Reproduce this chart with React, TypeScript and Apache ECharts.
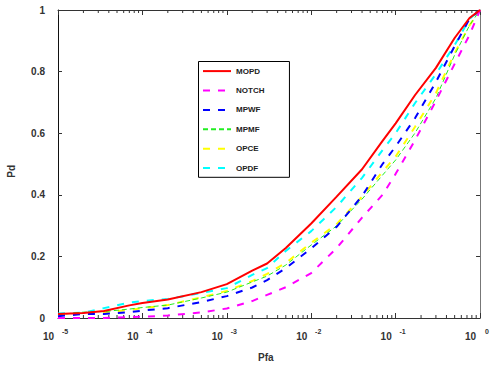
import React, { useEffect, useRef } from "react";
import * as echarts from "echarts";

const pfa = [1e-5, 2e-5, 3.5e-5, 7e-5, 1e-4, 2e-4, 5e-4, 1e-3, 2e-3, 3e-3, 5e-3, 1e-2, 2e-2, 4e-2, 7e-2, 0.1, 0.17, 0.3, 0.5, 0.75, 1];
const mopd = [0.013, 0.016, 0.023, 0.041, 0.049, 0.06, 0.084, 0.11, 0.154, 0.177, 0.227, 0.307, 0.394, 0.483, 0.575, 0.632, 0.724, 0.812, 0.909, 0.974, 1.0];
const notch = [0, 0, 0, 0.003, 0.004, 0.008, 0.018, 0.031, 0.055, 0.075, 0.1, 0.146, 0.227, 0.326, 0.4, 0.468, 0.578, 0.705, 0.825, 0.919, 1.0];
const mpwf = [0.006, 0.013, 0.013, 0.019, 0.024, 0.032, 0.052, 0.071, 0.099, 0.123, 0.162, 0.226, 0.296, 0.396, 0.5, 0.557, 0.649, 0.766, 0.883, 0.971, 1.0];
const mpmf = [0.011, 0.019, 0.021, 0.029, 0.034, 0.042, 0.065, 0.084, 0.117, 0.136, 0.172, 0.237, 0.299, 0.386, 0.464, 0.513, 0.601, 0.714, 0.854, 0.95, 1.0];
const opce = [0.01, 0.016, 0.019, 0.026, 0.032, 0.042, 0.067, 0.088, 0.12, 0.143, 0.179, 0.244, 0.305, 0.394, 0.475, 0.524, 0.621, 0.73, 0.86, 0.95, 1.0];
const opdf = [0.015, 0.017, 0.032, 0.05, 0.055, 0.062, 0.081, 0.097, 0.14, 0.162, 0.218, 0.282, 0.361, 0.455, 0.545, 0.6, 0.698, 0.792, 0.886, 0.971, 1.0];

const seriesNames = ["MOPD", "NOTCH", "MPWF", "MPMF", "OPCE", "OPDF"];
const decades = [-5, -4, -3, -2, -1];
const minorMultipliers = [2, 3, 4, 5, 6, 7, 8, 9];
const xBase = "10";

const FONT = "Liberation Sans, Arial, sans-serif";
const AX = "#333";

export default function App() {
  const ref = useRef<HTMLDivElement>(null);
  useEffect(() => {
    if (!ref.current) return;
    const chart = echarts.init(ref.current, undefined, { renderer: "svg" });
    const values = [mopd, notch, mpwf, mpmf, opce, opdf];
    const styles = [
      { color: "#ff0000", width: 2, type: "solid" as any },
      { color: "#ff00ff", width: 2, type: [7, 8] as any },
      { color: "#0000ff", width: 2, type: [7, 8] as any },
      { color: "#22ee22", width: 1, type: [5, 3] as any },
      { color: "#ffff00", width: 2, type: [7, 8] as any },
      { color: "#00ffff", width: 2, type: [7, 8] as any },
    ];
    const lineSeries = seriesNames.map((name, i) => ({
      name,
      type: "line",
      data: pfa.map((x, j) => [x, values[i][j]]),
      symbol: "none",
      showSymbol: false,
      color: styles[i].color,
      lineStyle: { color: styles[i].color, width: styles[i].width, type: styles[i].type },
      z: 10 - i,
    }));
    const minorTicks: number[][] = [];
    decades.forEach((d) => minorMultipliers.forEach((m) => minorTicks.push([m * Math.pow(10, d), 0])));

    const logAxisBase = { type: "log", logBase: 10, min: 1e-5, max: 1, splitLine: { show: false } };

    chart.setOption({
      animation: false,
      grid: { left: 58, right: 6, top: 10, bottom: 49, containLabel: false },
      legend: {
        data: seriesNames,
        orient: "vertical",
        left: 198.5,
        top: 61.5,
        itemWidth: 28,
        itemHeight: 14,
        itemGap: 8.2,
        padding: [4, 25, 3.6, 3.5],
        borderColor: "#000",
        borderWidth: 1,
        backgroundColor: "#fff",
        itemStyle: { opacity: 0 },
        textStyle: { fontFamily: FONT, fontSize: 8, fontWeight: "bold", color: "#222", padding: [0, 0, 5, 0] },
      },
      xAxis: [
        {
          ...logAxisBase,
          position: "bottom",
          axisLine: { lineStyle: { color: AX, width: 1 } },
          axisTick: { inside: true, length: 5, lineStyle: { color: AX } },
          axisLabel: {
            margin: 13,
            formatter: () => xBase,
            fontFamily: FONT,
            fontSize: 10,
            fontWeight: "bold",
            color: AX,
            padding: [0, 19, 0, 0],
          },
        },
        {
          ...logAxisBase,
          position: "bottom",
          axisLine: { show: false },
          axisTick: { show: false },
          axisLabel: {
            margin: 10,
            formatter: (v: number) => String(Math.round(Math.log10(v))),
            fontFamily: FONT,
            fontSize: 7,
            fontWeight: "bold",
            color: AX,
            padding: [0, 0, 0, 14],
          },
        },
        {
          ...logAxisBase,
          position: "top",
          axisLine: { onZero: false, lineStyle: { color: AX, width: 1 } },
          axisTick: { inside: true, length: 5, lineStyle: { color: AX } },
          axisLabel: { show: false },
        },
      ],
      yAxis: [
        {
          type: "value",
          min: 0,
          max: 1,
          interval: 0.2,
          axisLine: { show: true, lineStyle: { color: "#111", width: 1 } },
          axisTick: { show: true, inside: true, length: 4, lineStyle: { color: AX } },
          splitLine: { show: false },
          axisLabel: { margin: 13, fontFamily: FONT, fontSize: 10, fontWeight: "bold", color: AX },
        },
        {
          type: "value",
          min: 0,
          max: 1,
          interval: 0.2,
          position: "right",
          axisLine: { show: true, onZero: false, lineStyle: { color: "#777", width: 1 } },
          axisTick: { show: true, inside: true, length: 4, lineStyle: { color: AX } },
          splitLine: { show: false },
          axisLabel: { show: false },
        },
      ],
      graphic: [
        {
          type: "text",
          left: 6,
          top: 165,
          rotation: Math.PI / 2,
          style: { text: "Pd", fontFamily: FONT, fontSize: 10, fontWeight: "bold", fill: AX },
        },
        {
          type: "text",
          left: 258,
          top: 352,
          style: { text: "Pfa", fontFamily: FONT, fontSize: 10, fontWeight: "bold", fill: AX },
        },
      ],
      series: [
        ...lineSeries,
        {
          type: "custom",
          name: "minor",
          data: minorTicks,
          encode: { x: 0, y: 1 },
          silent: true,
          z: 1,
          renderItem: (params: any, api: any) => {
            const v = api.value(0);
            const b = api.coord([v, 0]);
            const t = api.coord([v, 1]);
            return {
              type: "group",
              children: [
                { type: "line", shape: { x1: b[0], y1: b[1], x2: b[0], y2: b[1] - 3 }, style: { stroke: AX, lineWidth: 1 } },
                { type: "line", shape: { x1: t[0], y1: t[1], x2: t[0], y2: t[1] + 3 }, style: { stroke: AX, lineWidth: 1 } },
              ],
            };
          },
        },
      ],
    });
    return () => chart.dispose();
  }, []);
  return <div ref={ref} style={{ position: "fixed", left: 0, top: 0, width: 492, height: 367, background: "#fff" }} />;
}
